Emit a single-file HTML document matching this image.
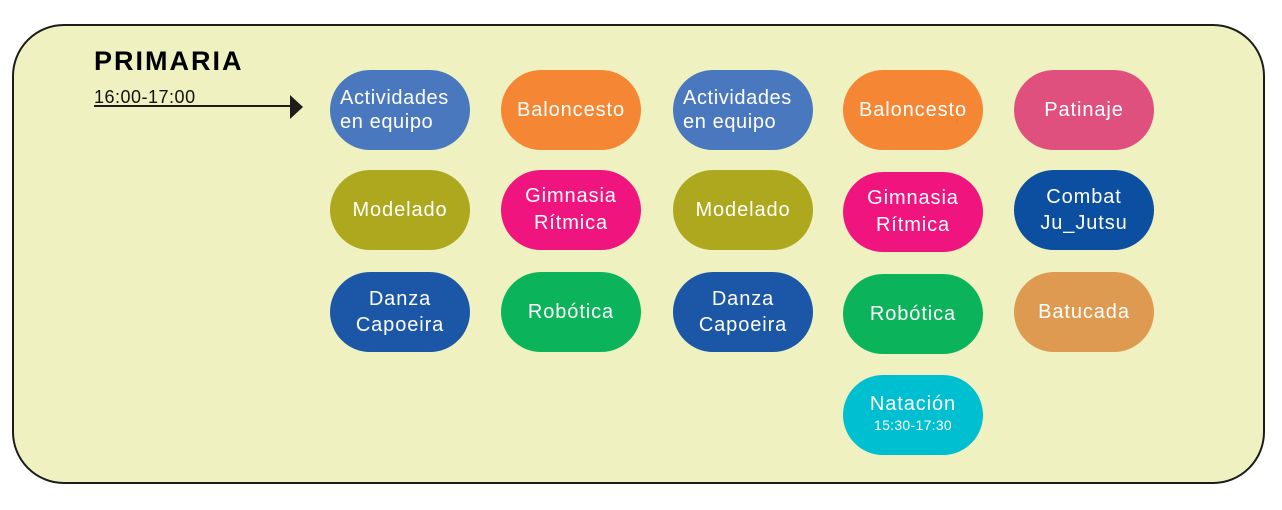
<!DOCTYPE html>
<html><head><style>
body{margin:0;width:1282px;height:510px;background:#fff;position:relative;overflow:hidden;font-family:"Liberation Sans",sans-serif}
.box{position:absolute;left:12px;top:24px;width:1249px;height:456px;border:2px solid #1e1b1b;border-radius:52px;background:#eff2c0}
.p{position:absolute;width:140px;height:80px;border-radius:40px;color:#fff;font-size:20px;letter-spacing:0.9px;line-height:24px;display:flex;align-items:center;justify-content:center;text-align:center}
.l{justify-content:flex-start;text-align:left;padding-left:10px;box-sizing:border-box;letter-spacing:0.6px}
h1{position:absolute;left:94px;top:46px;margin:0;font-size:27px;font-weight:900;letter-spacing:2px;color:#000}
.t{position:absolute;left:94px;top:87px;font-size:18px;letter-spacing:0.5px;color:#111}
</style></head><body>
<div class="box"></div>
<h1>PRIMARIA</h1>
<div class="t">16:00-17:00</div>
<svg style="position:absolute;left:0;top:0" width="1282" height="510"><line x1="94" y1="106" x2="292" y2="106" stroke="#1e1b1b" stroke-width="2"/><polygon points="290,95 303,107 290,119" fill="#1e1b1b"/></svg>

<div class="p l" style="left:330px;top:70px;background:#4a78bf">Actividades<br>en equipo</div>
<div class="p" style="left:501px;top:70px;background:#f58634">Baloncesto</div>
<div class="p l" style="left:673px;top:70px;background:#4a78bf">Actividades<br>en equipo</div>
<div class="p" style="left:843px;top:70px;background:#f58634">Baloncesto</div>
<div class="p" style="left:1014px;top:70px;background:#e0507f">Patinaje</div>

<div class="p" style="left:330px;top:170px;background:#aea81e">Modelado</div>
<div class="p" style="left:501px;top:170px;background:#f0147f;line-height:27px">Gimnasia<br>Rítmica</div>
<div class="p" style="left:673px;top:170px;background:#aea81e">Modelado</div>
<div class="p" style="left:843px;top:172px;background:#f0147f;line-height:27px">Gimnasia<br>Rítmica</div>
<div class="p" style="left:1014px;top:170px;background:#0c4ea0;line-height:26px">Combat<br>Ju_Jutsu</div>

<div class="p" style="left:330px;top:272px;background:#1c57a7;line-height:26px">Danza<br>Capoeira</div>
<div class="p" style="left:501px;top:272px;background:#0bb45a">Robótica</div>
<div class="p" style="left:673px;top:272px;background:#1c57a7;line-height:26px">Danza<br>Capoeira</div>
<div class="p" style="left:843px;top:274px;background:#0bb45a">Robótica</div>
<div class="p" style="left:1014px;top:272px;background:#df9a52">Batucada</div>

<div class="p" style="left:843px;top:375px;background:#00bfd0;flex-direction:column;line-height:21px"><span>Natación</span><span style="font-size:14px;letter-spacing:0.3px">15:30-17:30</span></div>
</body></html>
